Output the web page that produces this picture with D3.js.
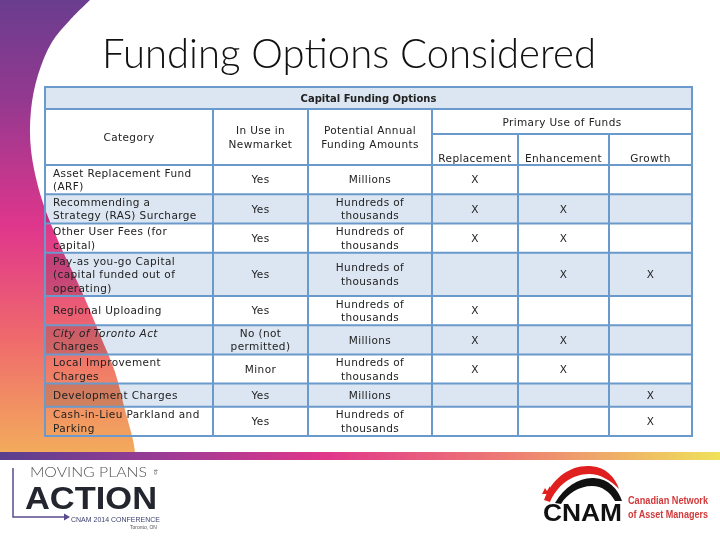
<!DOCTYPE html>
<html>
<head>
<meta charset="utf-8">
<script src="https://cdn.jsdelivr.net/npm/d3@7"></script>
<style>
  body { margin: 0; background: #fff; }
  svg { display: block; }
  .cell { mix-blend-mode: multiply; }
  .tbl text { font-family: "DejaVu Sans", sans-serif; font-size: 10.5px; fill: #222; letter-spacing: 0.4px; }
</style>
</head>
<body>
<div id="slide"></div>
<script>
// ---- data ----
const titleText = "Funding Options Considered";
const tableTitle = "Capital Funding Options";
const columnHeaders = [["Category"], ["In Use in", "Newmarket"], ["Potential Annual", "Funding Amounts"]];
const useHeader = "Primary Use of Funds";
const useColumns = ["Replacement", "Enhancement", "Growth"];

const categories = [
  ["Asset Replacement Fund", "(ARF)"],
  ["Recommending a", "Strategy (RAS) Surcharge"],
  ["Other User Fees (for", "capital)"],
  ["Pay-as you-go Capital", "(capital funded out of", "operating)"],
  ["Regional Uploading"],
  ["City of Toronto Act", "Charges"],
  ["Local Improvement", "Charges"],
  ["Development Charges"],
  ["Cash-in-Lieu Parkland and", "Parking"]
];
const italicLines = ["City of Toronto Act"];
const inUse = [["Yes"], ["Yes"], ["Yes"], ["Yes"], ["Yes"], ["No (not", "permitted)"], ["Minor"], ["Yes"], ["Yes"]];
const amounts = [
  ["Millions"],
  ["Hundreds of", "thousands"],
  ["Hundreds of", "thousands"],
  ["Hundreds of", "thousands"],
  ["Hundreds of", "thousands"],
  ["Millions"],
  ["Hundreds of", "thousands"],
  ["Millions"],
  ["Hundreds of", "thousands"]
];
const replacement = [1, 1, 1, 0, 1, 1, 1, 0, 0];
const enhancement = [0, 1, 1, 1, 0, 1, 1, 0, 0];
const growth      = [0, 0, 0, 1, 0, 0, 0, 1, 1];

// ---- layout ----
const W = 720, H = 540;
const svg = d3.select("#slide").append("svg").attr("width", W).attr("height", H);
const defs = svg.append("defs");

// left decoration gradient
const vg = defs.append("linearGradient").attr("id", "leftGrad")
  .attr("x1", 0).attr("y1", 0).attr("x2", 0).attr("y2", 1);
[[0, "#6a3d8f"], [0.22, "#93398f"], [0.5, "#df368c"], [0.75, "#ef6a6c"], [1, "#f3ab5c"]]
  .forEach(s => vg.append("stop").attr("offset", s[0]).attr("stop-color", s[1]));

const hg = defs.append("linearGradient").attr("id", "barGrad")
  .attr("x1", 0).attr("y1", 0).attr("x2", 1).attr("y2", 0);
[[0, "#5a3f8e"], [0.22, "#9a3b95"], [0.45, "#e0368a"], [0.7, "#ee7a74"], [1, "#efe25a"]]
  .forEach(s => hg.append("stop").attr("offset", s[0]).attr("stop-color", s[1]));

const edge = [[90, 0], [70, 20], [52, 42], [38, 75], [31, 110], [31, 150], [42, 200], [60, 245],
              [82, 292], [100, 335], [115, 372], [125, 410], [133, 440], [135, 452]];
const edgeLine = d3.line().curve(d3.curveCatmullRom);
svg.append("path")
  .attr("d", "M0,0 L" + edgeLine(edge).slice(1) + " L0,452 Z")
  .attr("fill", "url(#leftGrad)");

svg.append("rect").attr("x", 0).attr("y", 452).attr("width", W).attr("height", 8)
  .attr("fill", "url(#barGrad)");

// title
svg.append("text").attr("x", 102).attr("y", 68)
  .attr("font-family", "Lato, 'Open Sans', sans-serif").attr("font-weight", 300)
  .attr("font-size", 41).attr("fill", "#111")
  .attr("textLength", 494).attr("lengthAdjust", "spacingAndGlyphs")
  .text(titleText);

// ---- table ----
const tbl = svg.append("g").attr("class", "tbl");
const tLeft = 45, tRight = 692, tTop = 87, head1 = 109, subTop = 134, bodyTop = 165, tBottom = 436;
const cols = ["cat", "inuse", "amount", "repl", "enh", "growth"];
const colX = d3.scaleOrdinal().domain(cols.concat(["end"])).range([45, 213, 308, 432, 518, 609, 692]);
const colNext = k => colX(cols[cols.indexOf(k) + 1] || "end");
const colMid = k => (colX(k) + colNext(k)) / 2;

const rows = categories.map((c, i) => ({
  cat: c, inuse: inUse[i], amount: amounts[i],
  repl: replacement[i] ? ["X"] : [], enh: enhancement[i] ? ["X"] : [], growth: growth[i] ? ["X"] : []
}));
rows.forEach(r => {
  const n = d3.max(cols, k => r[k].length);
  r.h = Math.max(23, 14 * n + 1);
});
let acc = 0;
rows.forEach(r => { r.y0 = acc; acc += r.h; r.y1 = acc; });
const yRow = d3.scaleLinear().domain([0, acc]).range([bodyTop, tBottom]);

const blue = "#dce6f2", gridColor = "#6a99cc", lh = 13.5;

// fills
tbl.append("rect").attr("class", "cell").attr("x", tLeft).attr("y", tTop)
  .attr("width", tRight - tLeft).attr("height", head1 - tTop).attr("fill", blue);
tbl.append("rect").attr("class", "cell").attr("x", tLeft).attr("y", head1)
  .attr("width", tRight - tLeft).attr("height", bodyTop - head1).attr("fill", "#fff");
tbl.selectAll("rect.row").data(rows).join("rect")
  .attr("class", "cell row")
  .attr("x", tLeft).attr("width", tRight - tLeft)
  .attr("y", d => yRow(d.y0)).attr("height", d => yRow(d.y1) - yRow(d.y0))
  .attr("fill", (d, i) => i % 2 ? blue : "#fff");

// grid lines
const g = tbl.append("g").attr("stroke", gridColor).attr("stroke-width", 2).attr("fill", "none");
g.append("rect").attr("x", tLeft).attr("y", tTop).attr("width", tRight - tLeft).attr("height", tBottom - tTop);
g.append("line").attr("x1", tLeft).attr("x2", tRight).attr("y1", head1).attr("y2", head1);
g.append("line").attr("x1", colX("repl")).attr("x2", tRight).attr("y1", subTop).attr("y2", subTop);
g.selectAll("line.h").data(rows.slice(0, -1).map(r => r.y1).concat([0])).join("line")
  .attr("x1", tLeft).attr("x2", tRight).attr("y1", d => yRow(d)).attr("y2", d => yRow(d));
g.selectAll("line.v").data(["inuse", "amount", "repl"]).join("line")
  .attr("x1", colX).attr("x2", colX).attr("y1", head1).attr("y2", tBottom);
g.selectAll("line.v2").data(["enh", "growth"]).join("line")
  .attr("x1", colX).attr("x2", colX).attr("y1", subTop).attr("y2", tBottom);

// multi-line text helper
function lines(sel, arr, x, cy, anchor) {
  const t = sel.append("text").attr("text-anchor", anchor);
  arr.forEach((s, i) => {
    t.append("tspan").attr("x", x)
      .attr("y", cy + (i - (arr.length - 1) / 2) * lh + 3.8)
      .attr("font-style", italicLines.includes(s) ? "italic" : null)
      .text(s);
  });
  return t;
}

lines(tbl, [tableTitle], (tLeft + tRight) / 2, (tTop + head1) / 2, "middle")
  .attr("font-weight", "bold").style("font-size", "10px").style("letter-spacing", "0px");
["cat", "inuse", "amount"].forEach((k, i) => lines(tbl, columnHeaders[i], colMid(k), 137, "middle"));
lines(tbl, [useHeader], (colX("repl") + tRight) / 2, 122, "middle");
["repl", "enh", "growth"].forEach((k, i) => lines(tbl, [useColumns[i]], colMid(k), 158, "middle"));

rows.forEach(r => {
  const cy = (yRow(r.y0) + yRow(r.y1)) / 2;
  lines(tbl, r.cat, tLeft + 8, cy, "start");
  ["inuse", "amount", "repl", "enh", "growth"].forEach(k => {
    if (r[k].length) lines(tbl, r[k], colMid(k), cy, "middle");
  });
});

// ---- logos ----
const lg = svg.append("g");
lg.append("path").attr("d", "M13,468 V517 H66").attr("stroke", "#5b4a8c").attr("stroke-width", 1.5).attr("fill", "none");
lg.append("path").attr("d", "M64,513.5 L70,517 L64,520.5 Z").attr("fill", "#5b4a8c");
lg.append("text").attr("x", 30).attr("y", 476.5).attr("font-family", "Lato, sans-serif").attr("font-weight", 300)
  .attr("font-size", 13).attr("fill", "#555").attr("textLength", 117).attr("lengthAdjust", "spacingAndGlyphs")
  .text("MOVING PLANS");
lg.append("text").attr("transform", "translate(154,472) rotate(90)").attr("text-anchor", "middle")
  .attr("font-family", "Lato, sans-serif").attr("font-size", 6).attr("fill", "#666").text("to");
lg.append("text").attr("x", 25).attr("y", 508.5).attr("font-family", "'Liberation Sans', sans-serif").attr("font-weight", "bold")
  .attr("font-size", 32).attr("fill", "#24262f").attr("textLength", 132).attr("lengthAdjust", "spacingAndGlyphs")
  .text("ACTION");
lg.append("text").attr("x", 71).attr("y", 522).attr("font-family", "'Liberation Sans Narrow', 'Liberation Sans', sans-serif")
  .attr("font-size", 7).attr("fill", "#3b3f6e").attr("textLength", 89).attr("lengthAdjust", "spacingAndGlyphs")
  .text("CNAM 2014 CONFERENCE");
lg.append("text").attr("x", 130).attr("y", 529).attr("font-family", "'Liberation Sans', sans-serif")
  .attr("font-size", 5).attr("fill", "#555").text("Toronto, ON");

// CNAM logo
const cl = svg.append("g");
cl.append("path")
  .attr("d", "M544,500 C552,478 570,465 590,466 C606,467 615,477 619,489 C610,480 600,474 589,474 C571,474 557,486 550,502 Z")
  .attr("fill", "#e0201f");
cl.append("path")
  .attr("d", "M555,503 C565,486 580,477 594,478 C609,479 618,489 622,501 L615,501 C610,492 602,486 592,486 C579,486 567,494 561,504 Z")
  .attr("fill", "#111");
cl.append("path").attr("d", "M542,494 l3,-6 l2,3 l3,-5 l1,8 Z").attr("fill", "#e0201f");
cl.append("text").attr("x", 543).attr("y", 521).attr("font-family", "'Liberation Sans Narrow', 'Liberation Sans', sans-serif")
  .attr("font-weight", "bold").attr("font-size", 24).attr("fill", "#111")
  .attr("textLength", 79).attr("lengthAdjust", "spacingAndGlyphs")
  .text("CNAM");
cl.append("text").attr("x", 628).attr("y", 504).attr("font-family", "'Liberation Sans Narrow', 'Liberation Sans', sans-serif")
  .attr("font-weight", "bold").attr("font-size", 10.5).attr("fill", "#d2393a")
  .attr("textLength", 80).attr("lengthAdjust", "spacingAndGlyphs").text("Canadian Network");
cl.append("text").attr("x", 628).attr("y", 518).attr("font-family", "'Liberation Sans Narrow', 'Liberation Sans', sans-serif")
  .attr("font-weight", "bold").attr("font-size", 10.5).attr("fill", "#d2393a")
  .attr("textLength", 80).attr("lengthAdjust", "spacingAndGlyphs").text("of Asset Managers");
</script>
</body>
</html>
